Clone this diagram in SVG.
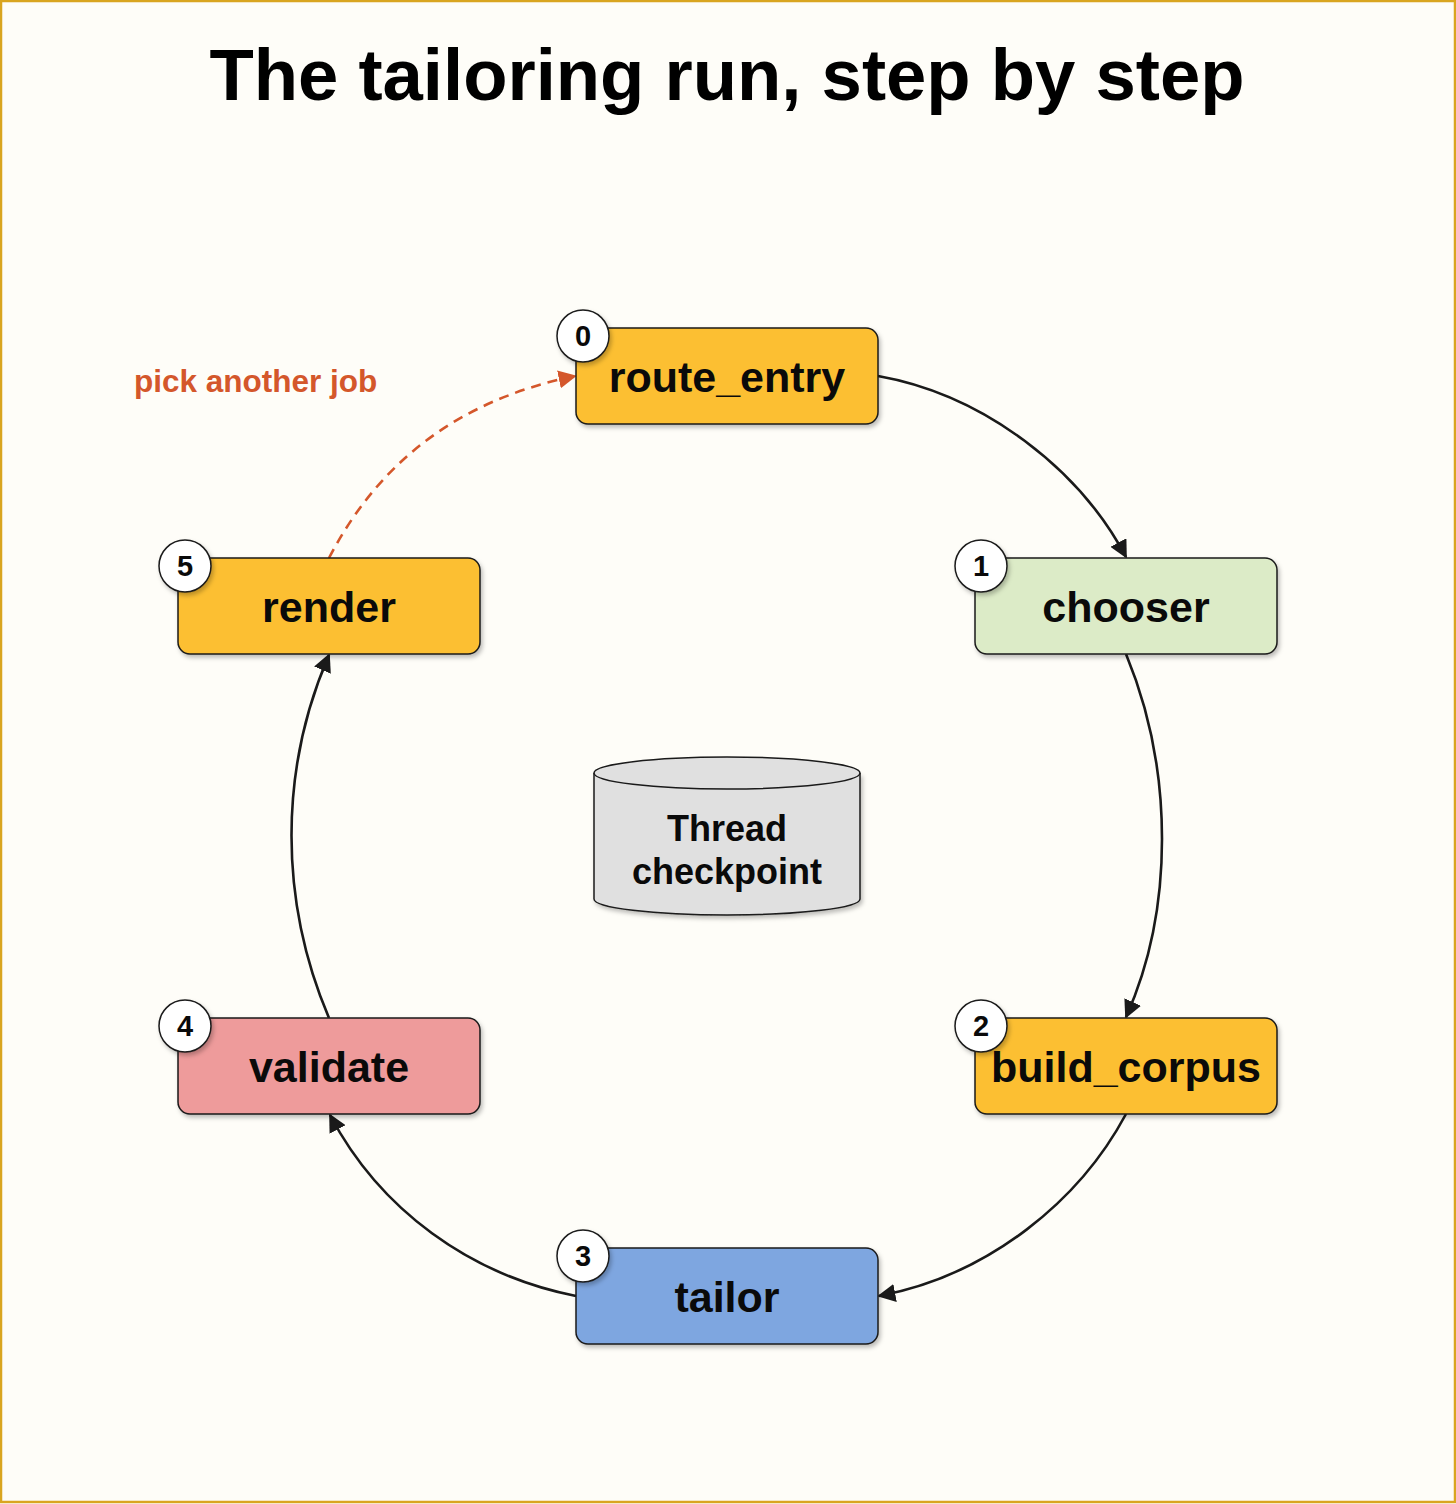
<svg xmlns="http://www.w3.org/2000/svg" width="1456" height="1504" viewBox="0 0 1456 1504">
<style>
.lbl{font-family:"Liberation Sans",Arial,sans-serif;font-weight:bold;font-size:43px;fill:#0a0a0a;text-anchor:middle}
.num{font-family:"Liberation Sans",Arial,sans-serif;font-weight:bold;font-size:29px;fill:#0a0a0a;text-anchor:middle}
.box{stroke:#1a1a1a;stroke-width:1.5;filter:url(#sh)}
.badge{fill:#fff;stroke:#1a1a1a;stroke-width:1.5;filter:url(#sh)}
.edge{fill:none;stroke:#1a1a1a;stroke-width:2.6;marker-end:url(#ah)}
</style>
<defs>
<filter id="sh" x="-10%" y="-10%" width="130%" height="140%">
<feDropShadow dx="2" dy="3" stdDeviation="2" flood-color="#000" flood-opacity="0.25"/>
</filter>
<marker id="ah" viewBox="0 0 10 10" refX="9" refY="5" markerWidth="7" markerHeight="7" orient="auto" markerUnits="strokeWidth">
<path d="M0,0 L10,5 L0,10 z" fill="#1a1a1a"/>
</marker>
<marker id="ahO" viewBox="0 0 10 10" refX="9" refY="5" markerWidth="7" markerHeight="7" orient="auto" markerUnits="strokeWidth">
<path d="M0,0 L10,5 L0,10 z" fill="#d4572b"/>
</marker>
</defs>
<rect x="1" y="1" width="1454" height="1501" fill="#fefdf8" stroke="#d9a520" stroke-width="2.5"/>
<text x="727" y="100" font-family="Liberation Sans,Arial,sans-serif" font-weight="bold" font-size="72.5" text-anchor="middle" fill="#000">The tailoring run, step by step</text>

<g id="connectors">
<path class="edge" d="M878,376 C985,395 1080,470 1126,557"/>
<path class="edge" d="M1126,654 C1174,770 1174,910 1126,1017"/>
<path class="edge" d="M1126,1114 C1080,1200 990,1275 879,1296"/>
<path class="edge" d="M576,1296 C470,1275 380,1210 330,1115"/>
<path class="edge" d="M329,1018 C279,900 279,770 329,655"/>
<path d="M329,558 C380,460 460,400 575,376" fill="none" stroke="#d4572b" stroke-width="2.6" stroke-dasharray="10,7" marker-end="url(#ahO)"/>
<text x="134" y="392" font-family="Liberation Sans,Arial,sans-serif" font-weight="bold" font-size="31.5" fill="#d4572b">pick another job</text>
</g>

<g id="checkpoint">
<path d="M594,773 L594,899 A133,16 0 0 0 860,899 L860,773" fill="#e0e0e0" stroke="#1a1a1a" stroke-width="1.5" filter="url(#sh)"/>
<ellipse cx="727" cy="773" rx="133" ry="16" fill="#e0e0e0" stroke="#1a1a1a" stroke-width="1.5"/>
<text x="727" y="841" font-family="Liberation Sans,Arial,sans-serif" font-weight="bold" font-size="36" text-anchor="middle" fill="#0a0a0a">Thread</text>
<text x="727" y="884" font-family="Liberation Sans,Arial,sans-serif" font-weight="bold" font-size="36" text-anchor="middle" fill="#0a0a0a">checkpoint</text>
</g>

<g id="route_entry">
<rect class="box" x="576" y="328" width="302" height="96" rx="12" fill="#fcbf32"/>
<text class="lbl" x="727" y="392">route_entry</text>
<circle class="badge" cx="583" cy="336" r="26"/>
<text class="num" x="583" y="346">0</text>
</g>
<g id="chooser">
<rect class="box" x="975" y="558" width="302" height="96" rx="12" fill="#dcebc7"/>
<text class="lbl" x="1126" y="622">chooser</text>
<circle class="badge" cx="981" cy="566" r="26"/>
<text class="num" x="981" y="576">1</text>
</g>
<g id="build_corpus">
<rect class="box" x="975" y="1018" width="302" height="96" rx="12" fill="#fcbf32"/>
<text class="lbl" x="1126" y="1082">build_corpus</text>
<circle class="badge" cx="981" cy="1026" r="26"/>
<text class="num" x="981" y="1036">2</text>
</g>
<g id="tailor">
<rect class="box" x="576" y="1248" width="302" height="96" rx="12" fill="#7ea6e0"/>
<text class="lbl" x="727" y="1312">tailor</text>
<circle class="badge" cx="583" cy="1256" r="26"/>
<text class="num" x="583" y="1266">3</text>
</g>
<g id="validate">
<rect class="box" x="178" y="1018" width="302" height="96" rx="12" fill="#ee9b9b"/>
<text class="lbl" x="329" y="1082">validate</text>
<circle class="badge" cx="185" cy="1026" r="26"/>
<text class="num" x="185" y="1036">4</text>
</g>
<g id="render">
<rect class="box" x="178" y="558" width="302" height="96" rx="12" fill="#fcbf32"/>
<text class="lbl" x="329" y="622">render</text>
<circle class="badge" cx="185" cy="566" r="26"/>
<text class="num" x="185" y="576">5</text>
</g>
</svg>
